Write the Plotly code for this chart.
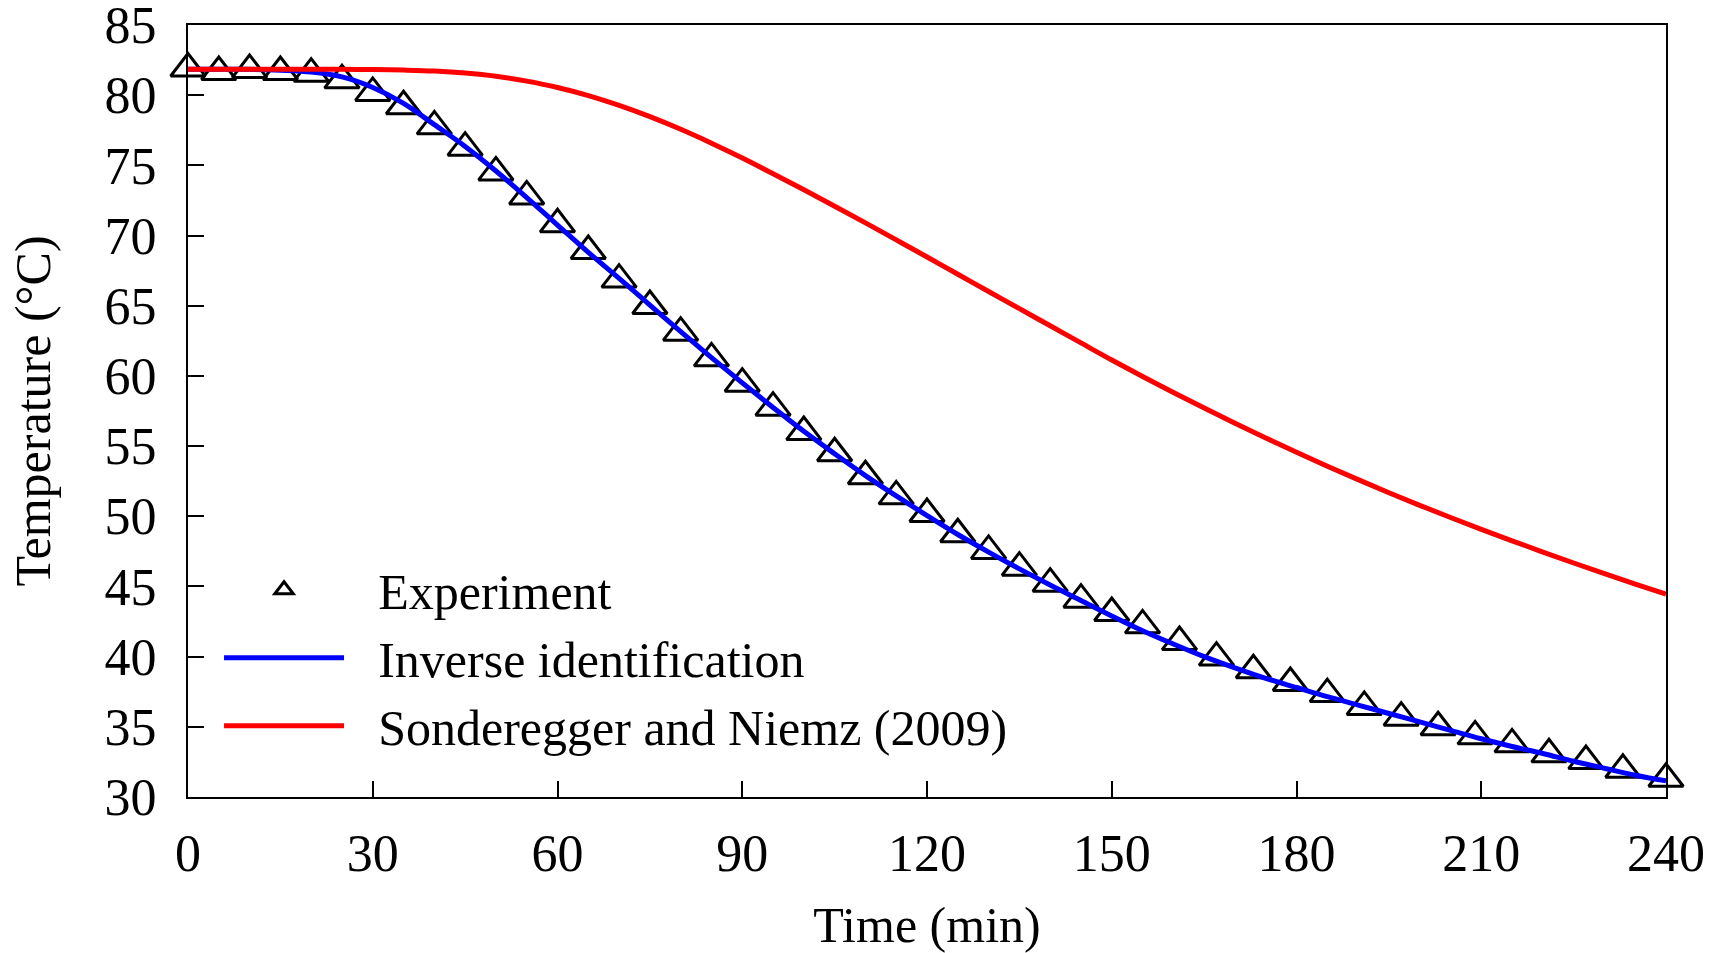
import plotly.graph_objects as go

# ---------------- data ----------------
exp_time = [0, 5, 10, 15, 20, 25, 30, 35, 40, 45, 50, 55, 60, 65, 70, 75, 80, 85,
            90, 95, 100, 105, 110, 115, 120, 125, 130, 135, 140, 145, 150, 155,
            161, 167, 173, 179, 185, 191, 197, 203, 209, 215, 221, 227, 233, 240]
exp_temp = [81.90, 81.65, 81.79, 81.65, 81.53, 81.06, 80.16, 79.21, 77.78, 76.26,
            74.50, 72.79, 70.80, 68.90, 66.86, 64.98, 63.08, 61.25, 59.45, 57.74,
            56.00, 54.49, 52.85, 51.42, 50.16, 48.72, 47.53, 46.34, 45.20, 44.06,
            43.11, 42.23, 41.04, 39.93, 39.03, 38.12, 37.33, 36.42, 35.65, 34.97,
            34.32, 33.75, 33.04, 32.56, 31.94, 31.30]

model_time = [0, 5, 10, 15, 20, 25, 30, 35, 40, 45, 50, 55, 60, 65, 70, 75, 80, 85,
              90, 95, 100, 105, 110, 115, 120, 125, 130, 135, 140, 145, 150, 155,
              160, 165, 170, 175, 180, 185, 190, 195, 200, 205, 210, 215, 220, 225,
              230, 235, 240]

inverse_temp = [81.85, 81.85, 81.84, 81.78, 81.65, 81.30, 80.55, 79.42, 77.90, 76.35,
                74.60, 72.70, 70.75, 68.80, 66.95, 65.05, 63.15, 61.30, 59.50, 57.75,
                56.05, 54.45, 52.90, 51.45, 50.05, 48.70, 47.45, 46.25, 45.10, 44.00,
                42.90, 41.85, 40.90, 40.00, 39.20, 38.45, 37.80, 37.15, 36.55, 35.95,
                35.35, 34.75, 34.15, 33.60, 33.10, 32.55, 32.05, 31.55, 31.15]

sonderegger_temp = [81.85, 81.85, 81.85, 81.85, 81.85, 81.84, 81.83, 81.79, 81.72, 81.58,
                    81.35, 81.00, 80.55, 79.97, 79.27, 78.47, 77.57, 76.58, 75.52, 74.40,
                    73.26, 72.09, 70.90, 69.69, 68.47, 67.24, 66.01, 64.79, 63.57, 62.35,
                    61.13, 59.96, 58.82, 57.71, 56.63, 55.58, 54.56, 53.57, 52.61, 51.68,
                    50.78, 49.91, 49.07, 48.25, 47.45, 46.67, 45.91, 45.17, 44.45]

x_ticks = [0, 30, 60, 90, 120, 150, 180, 210, 240]
y_ticks = [30, 35, 40, 45, 50, 55, 60, 65, 70, 75, 80, 85]

names = ["Experiment", "Inverse identification", "Sonderegger and Niemz (2009)"]

FONT = "Liberation Serif, Times New Roman, serif"
PAD = "\u00a0\u00a0\u200a"

fig = go.Figure()
fig.add_trace(go.Scatter(
    x=exp_time, y=exp_temp, mode="markers", name=PAD + names[0],
    marker=dict(symbol="triangle-up-open", size=30, color="black",
                line=dict(width=3, color="black")),
    cliponaxis=False))
fig.add_trace(go.Scatter(
    x=model_time, y=inverse_temp, mode="lines", name=PAD + names[1],
    line=dict(color="#0000FF", width=5, shape="spline")))
fig.add_trace(go.Scatter(
    x=model_time, y=sonderegger_temp, mode="lines", name=PAD + names[2],
    line=dict(color="#FF0000", width=5, shape="spline")))

axis_common = dict(
    showline=True, linewidth=2, linecolor="black", mirror=True,
    ticks="inside", ticklen=16, tickwidth=2, tickcolor="black",
    showgrid=False, zeroline=False, automargin=False,
    ticklabeloverflow="allow",
    tickfont=dict(family=FONT, size=52, color="black"),
)

fig.update_layout(
    width=1723, height=953,
    margin=dict(l=188, r=57, t=25, b=156),
    paper_bgcolor="white", plot_bgcolor="white",
    font=dict(family=FONT, color="black"),
    xaxis=dict(range=[0, 240], tickvals=x_ticks, ticklabelstandoff=10,
               title=dict(text="Time (min)", font=dict(family=FONT, size=50), standoff=34),
               **axis_common),
    yaxis=dict(range=[30, 85], tickvals=y_ticks, ticklabelstandoff=19,
               title=dict(text="Temperature (°C)", font=dict(family=FONT, size=50), standoff=38),
               **axis_common),
    showlegend=True,
    legend=dict(x=0.021, y=0.319, xanchor="left", yanchor="top",
                bgcolor="rgba(0,0,0,0)", borderwidth=0,
                font=dict(family=FONT, size=50, color="black"),
                itemwidth=120, tracegroupgap=0),
)

fig.write_html("out.html",
               config={"displayModeBar": False},
               post_script="document.body.style.margin='0';document.body.style.overflow='hidden';")
